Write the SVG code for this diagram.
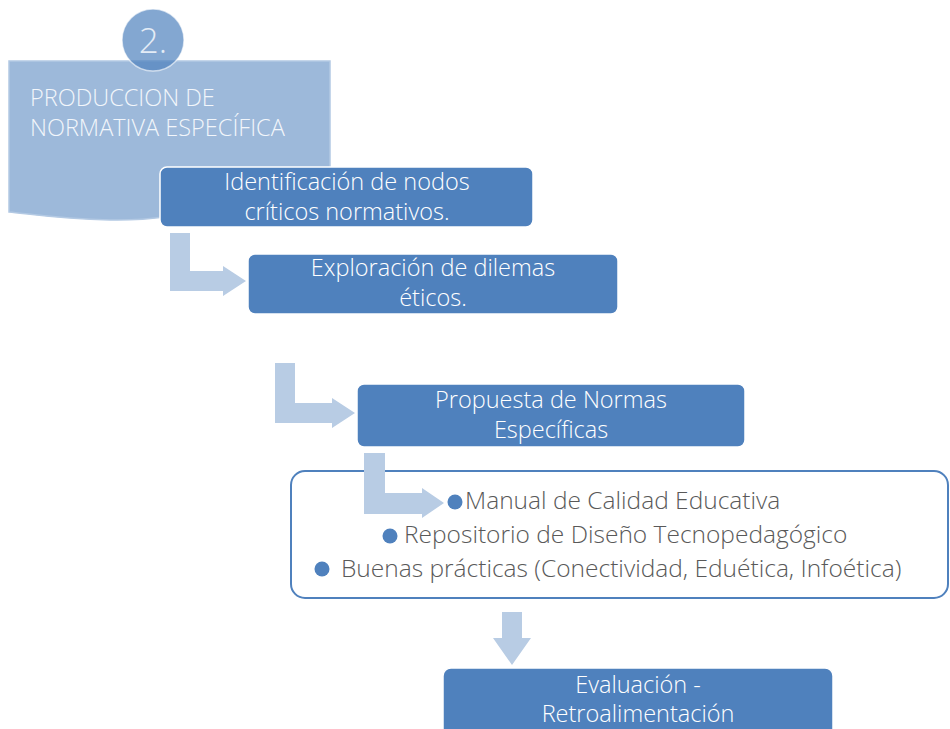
<svg xmlns="http://www.w3.org/2000/svg" width="950" height="729" viewBox="0 0 950 729">
  <defs>
    <style>
      .box { fill: #4F81BD; stroke: #FFFFFF; stroke-width: 1.5; }
      .box-text { font-family: "Open Sans", "Liberation Sans", sans-serif; font-weight: 300; font-size: 23.5px; fill: #FFFFFF; text-anchor: middle; }
      .head-text { font-family: "Open Sans", "Liberation Sans", sans-serif; font-weight: 300; font-size: 23.5px; fill: #F2F6FB; }
      .list-text { font-family: "Open Sans", "Liberation Sans", sans-serif; font-weight: 300; font-size: 24.5px; fill: #595959; }
      .bullet { fill: #4F81BD; }
      .arrow { fill: #B8CCE4; }
    </style>
  </defs>

  <!-- Section header: document shape with numbered badge -->
  <g id="header">
    <path d="M9,61 H330 V200 C 260,188 200,222 110,220 C 60,219 30,214 9,212 Z" fill="#9DB9DA" stroke="#B3C9E3" stroke-width="1.5"/>
    <circle cx="153" cy="40" r="31" fill="#4F81BD" fill-opacity="0.7" stroke="#FFFFFF" stroke-opacity="0.6" stroke-width="1.5"/>
    <text x="153" y="53" font-family="'Open Sans', 'Liberation Sans', sans-serif" font-weight="300" font-size="35" fill="#E4ECF6" text-anchor="middle">2.</text>
    <text class="head-text" x="30" y="106">PRODUCCION DE</text>
    <text class="head-text" x="30" y="136">NORMATIVA ESPECÍFICA</text>
  </g>

  <!-- Connectors -->
  <g id="connectors">
    <path class="arrow" d="M170,233 H190 V271 H223 V266 L246,281 L223,296 V291 H170 Z"/>
    <path class="arrow" d="M275,363 H295 V403 H332 V398 L355,413 L332,428 V423 H275 Z"/>
    <path class="arrow" d="M502,612 H522 V638 H531 L512,665 L493,638 H502 Z"/>
  </g>

  <g id="step1">
    <rect class="box" x="160" y="167" width="373" height="60" rx="7"/>
    <text class="box-text" x="347" y="189.5">Identificación de nodos</text>
    <text class="box-text" x="347" y="219.5">críticos normativos.</text>
  </g>

  <g id="step2">
    <rect class="box" x="248" y="254" width="370" height="60" rx="7"/>
    <text class="box-text" x="433" y="275.5">Exploración de dilemas</text>
    <text class="box-text" x="433" y="305.5">éticos.</text>
  </g>

  <g id="step3">
    <rect class="box" x="357" y="384" width="388" height="63" rx="7"/>
    <text class="box-text" x="551" y="408">Propuesta de Normas</text>
    <text class="box-text" x="551" y="438">Específicas</text>
  </g>

  <g id="outputs">
    <rect x="291" y="471" width="657" height="127" rx="14" fill="#FFFFFF" stroke="#4F81BD" stroke-width="2"/>
    <circle class="bullet" cx="455" cy="502" r="7.5"/>
    <text class="list-text" x="465" y="509">Manual de Calidad Educativa</text>
    <circle class="bullet" cx="390" cy="536" r="7.5"/>
    <text class="list-text" x="404" y="543">Repositorio de Diseño Tecnopedagógico</text>
    <circle class="bullet" cx="322" cy="569" r="7.5"/>
    <text class="list-text" x="341" y="577">Buenas prácticas (Conectividad, Eduética, Infoética)</text>
  </g>

  <!-- Bent arrow drawn across the outputs frame -->
  <g id="connector-outputs">
    <path class="arrow" d="M364,453 H385 V493 H422 V488 L444,503 L422,518 V514 H364 Z"/>
  </g>

  <g id="step4">
    <rect class="box" x="443" y="668" width="390" height="72" rx="8"/>
    <text class="box-text" x="638" y="693">Evaluación -</text>
    <text class="box-text" x="638" y="722">Retroalimentación</text>
  </g>
</svg>
